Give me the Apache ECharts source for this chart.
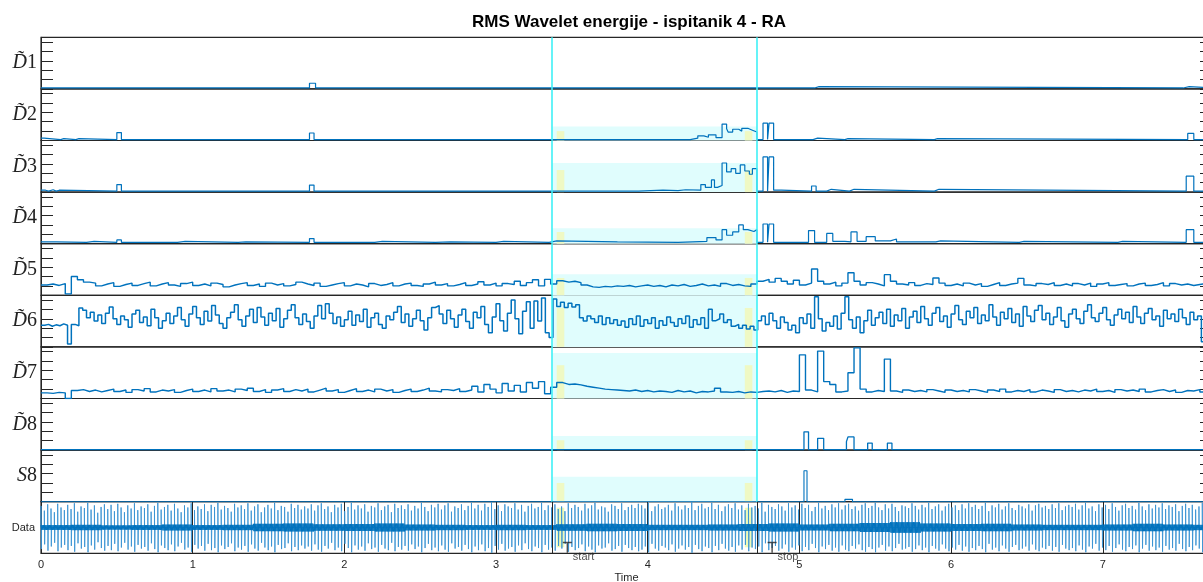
<!DOCTYPE html>
<html><head><meta charset="utf-8">
<script src="https://cdn.jsdelivr.net/npm/echarts@6/dist/echarts.min.js"></script>
<style>html,body{margin:0;padding:0;background:#fff}#c{width:1203px;height:582px}</style>
</head><body><div id="c"></div>
<script>
const titleText = 'RMS Wavelet energije - ispitanik 4 - RA';
const xMax = 7.72;
const evtStart = 3.37, evtStop = 4.72;
const yellowBands = [[3.40,3.45],[4.64,4.69]];
const markerX = [3.47, 4.82];
const markerNames = ['start','stop'];
const panelSym = ['D\u0303','D\u0303','D\u0303','D\u0303','D\u0303','D\u0303','D\u0303','D\u0303','S'];
const panelNum = ['1','2','3','4','5','6','7','8','8'];
const shadeTop  = [0, 0.30, 0.62, 0.33, 0.45, 1.10, 0.97, 0.30, 0.53];
const yellowTop = [0, 0.20, 0.47, 0.25, 0.37, 0.83, 0.71, 0.21, 0.40];

// sparse step series [time, value]
const d1 = [[0,0.02],[1.77,0.12],[1.81,0.02],[5.10,0.05],[5.13,0.02],[7.53,0.05],[7.57,0.02],[7.72,0.02]];
const d2 = [[0,0.05],[0.02,0.02],[0.13,0.04],[0.15,0.02],[0.23,0.04],[0.25,0.02],[0.50,0.17],[0.53,0.02],
 [1.77,0.16],[1.80,0.02],[4.28,0.05],[4.33,0.10],[4.37,0.07],[4.40,0.12],[4.45,0.06],[4.49,0.35],[4.52,0.25],
 [4.53,0.18],[4.56,0.24],[4.60,0.20],[4.62,0.26],[4.66,0.22],[4.69,0.18],[4.72,0.02],[4.76,0.37],[4.79,0.02],
 [4.80,0.37],[4.83,0.02],[5.09,0.05],[5.12,0.02],[5.30,0.04],[5.32,0.02],[5.89,0.04],[5.91,0.02],[7.56,0.15],[7.60,0.02],[7.72,0.02]];
const d3 = [[0,0.04],[0.03,0.02],[0.05,0.05],[0.08,0.02],[0.10,0.04],[0.12,0.02],[0.50,0.16],[0.53,0.02],
 [1.77,0.15],[1.80,0.02],[3.94,0.04],[4.10,0.03],[4.20,0.05],[4.25,0.04],[4.35,0.16],[4.38,0.10],[4.42,0.26],
 [4.44,0.10],[4.46,0.14],[4.49,0.62],[4.52,0.43],[4.55,0.50],[4.58,0.40],[4.61,0.58],[4.64,0.45],[4.67,0.38],
 [4.69,0.50],[4.72,0.02],[4.76,0.75],[4.79,0.02],[4.80,0.75],[4.83,0.04],[4.88,0.02],[5.08,0.13],[5.11,0.02],
 [5.18,0.06],[5.21,0.02],[5.33,0.06],[5.36,0.02],[5.89,0.06],[5.92,0.02],[7.55,0.34],[7.60,0.02],[7.72,0.02]];
const d4 = [[0,0.04],[0.10,0.03],[0.30,0.05],[0.35,0.03],[0.50,0.08],[0.53,0.03],[0.90,0.05],[0.95,0.03],
 [1.30,0.04],[1.35,0.03],[1.77,0.11],[1.80,0.03],[2.20,0.05],[2.25,0.03],[2.60,0.04],[2.70,0.03],[3.00,0.05],
 [3.05,0.03],[3.35,0.06],[3.40,0.04],[3.80,0.03],[4.20,0.05],[4.39,0.13],[4.45,0.08],[4.49,0.30],[4.52,0.18],
 [4.56,0.25],[4.60,0.40],[4.63,0.30],[4.66,0.26],[4.70,0.30],[4.72,0.03],[4.76,0.42],[4.79,0.03],[4.80,0.42],
 [4.83,0.03],[5.06,0.28],[5.10,0.03],[5.18,0.22],[5.22,0.05],[5.30,0.04],[5.34,0.25],[5.38,0.05],[5.44,0.15],
 [5.50,0.06],[5.60,0.10],[5.64,0.04],[5.90,0.06],[5.93,0.03],[6.45,0.05],[6.48,0.03],[7.10,0.05],[7.13,0.03],
 [7.55,0.30],[7.60,0.03],[7.72,0.03]];
const d8 = [[0,0.01],[5.03,0.39],[5.06,0.01],[5.12,0.25],[5.16,0.01],[5.31,0.18],[5.32,0.28],[5.36,0.01],[5.45,0.15],[5.48,0.01],[5.58,0.15],[5.61,0.01],[7.72,0.01]];
const s8 = [[0,0],[5.03,0.66],[5.05,0],[5.12,0.04],[5.13,0],[5.30,0.05],[5.35,0],[5.45,0.03],[5.46,0],[7.72,0]];

// dense series, sampled every d57Dx (D5, D7) / d6Dx (D6)
const d57Dx = 0.04;
const d5 = [
0.22,0.24,0.21,0.25,0.03,0.40,0.33,0.28,0.26,0.20,
0.24,0.27,0.19,0.23,0.26,0.21,0.25,0.28,0.20,0.24,
0.27,0.22,0.19,0.25,0.28,0.21,0.24,0.20,0.26,0.23,
0.18,0.22,0.25,0.27,0.21,0.24,0.19,0.26,0.22,0.25,
0.20,0.23,0.28,0.24,0.21,0.26,0.19,0.22,0.25,0.27,
0.20,0.24,0.22,0.18,0.25,0.21,0.23,0.27,0.20,0.24,
0.26,0.21,0.19,0.24,0.28,0.22,0.25,0.20,0.23,0.27,
0.21,0.24,0.29,0.22,0.26,0.20,0.25,0.23,0.30,0.21,
0.27,0.33,0.20,0.34,0.24,0.31,0.28,0.30,0.27,0.22,
0.18,0.17,0.19,0.18,0.20,0.19,0.21,0.18,0.20,0.22,
0.19,0.21,0.18,0.22,0.20,0.23,0.19,0.21,0.24,0.20,
0.22,0.19,0.25,0.21,0.23,0.20,0.19,0.24,0.30,0.34,
0.28,0.36,0.30,0.24,0.32,0.22,0.26,0.56,0.30,0.24,
0.28,0.20,0.26,0.48,0.30,0.22,0.27,0.24,0.20,0.44,
0.30,0.24,0.22,0.27,0.21,0.25,0.23,0.37,0.26,0.21,
0.24,0.20,0.26,0.22,0.25,0.19,0.23,0.27,0.21,0.24,
0.26,0.36,0.22,0.20,0.25,0.23,0.27,0.21,0.24,0.20,
0.25,0.22,0.26,0.19,0.24,0.27,0.21,0.23,0.25,0.20,
0.24,0.26,0.21,0.23,0.27,0.20,0.25,0.22,0.24,0.21,
0.23,0.25,0.19,0.15];
const d7 = [
0.12,0.11,0.13,0.12,0.00,0.17,0.19,0.15,0.18,0.14,
0.17,0.20,0.15,0.18,0.13,0.19,0.16,0.21,0.14,0.18,
0.16,0.19,0.13,0.17,0.20,0.15,0.18,0.14,0.21,0.16,
0.18,0.14,0.20,0.17,0.22,0.15,0.19,0.13,0.18,0.21,
0.15,0.19,0.16,0.20,0.14,0.18,0.22,0.16,0.19,0.13,
0.17,0.21,0.15,0.18,0.14,0.20,0.16,0.19,0.13,0.17,
0.20,0.15,0.18,0.22,0.16,0.14,0.19,0.17,0.21,0.15,
0.18,0.26,0.14,0.30,0.20,0.12,0.32,0.16,0.28,0.14,
0.34,0.22,0.36,0.10,0.24,0.34,0.30,0.31,0.29,0.26,
0.24,0.22,0.20,0.19,0.18,0.17,0.16,0.18,0.15,0.17,
0.14,0.16,0.15,0.13,0.17,0.14,0.16,0.12,0.15,0.14,
0.16,0.22,0.14,0.13,0.15,0.12,0.14,0.13,0.15,0.16,
0.14,0.17,0.13,0.16,0.15,0.93,0.18,0.14,1.01,0.36,
0.30,0.14,0.16,0.55,1.08,0.20,0.14,0.17,0.15,0.84,
0.16,0.13,0.18,0.15,0.17,0.14,0.19,0.16,0.13,0.18,
0.15,0.17,0.14,0.19,0.16,0.13,0.18,0.15,0.20,0.14,
0.17,0.15,0.19,0.14,0.18,0.16,0.13,0.19,0.15,0.17,
0.14,0.18,0.16,0.20,0.15,0.17,0.13,0.19,0.16,0.18,
0.15,0.20,0.14,0.17,0.19,0.15,0.18,0.13,0.17,0.16,
0.19,0.14,0.17,0.08];
const d6Dx = 0.025;
const d6 = [
0.46,0.48,0.44,0.47,0.45,0.49,0.46,0.06,0.48,0.45,
0.83,0.78,0.62,0.74,0.55,0.68,0.50,0.72,0.85,0.60,
0.48,0.66,0.58,0.42,0.70,0.78,0.52,0.64,0.45,0.80,
0.62,0.40,0.56,0.72,0.50,0.66,0.84,0.58,0.44,0.70,
0.86,0.62,0.48,0.76,0.55,0.88,0.68,0.50,0.40,0.62,
0.74,0.90,0.58,0.44,0.66,0.80,0.52,0.84,0.64,0.46,
0.72,0.56,0.82,0.42,0.60,0.78,0.90,0.62,0.48,0.70,
0.54,0.40,0.66,0.88,0.60,0.92,0.72,0.50,0.64,0.44,
0.58,0.76,0.46,0.68,0.54,0.80,0.42,0.62,0.72,0.48,
0.40,0.66,0.58,0.74,0.86,0.52,0.70,0.44,0.60,0.78,
0.56,0.36,0.62,0.84,0.88,0.70,0.50,0.78,0.60,0.42,
0.68,0.80,0.54,0.40,0.74,0.62,0.86,0.48,0.30,0.64,
0.92,0.56,0.34,0.72,1.00,0.60,0.28,0.76,0.96,0.40,
0.98,0.55,1.04,0.30,0.20,1.02,0.86,0.95,0.84,0.93,
0.85,0.90,0.62,0.55,0.66,0.60,0.52,0.66,0.48,0.62,
0.50,0.58,0.46,0.55,0.42,0.60,0.48,0.66,0.44,0.58,
0.50,0.62,0.40,0.56,0.46,0.64,0.52,0.44,0.60,0.50,
0.66,0.42,0.58,0.48,0.62,0.40,0.80,0.56,0.60,0.70,
0.52,0.58,0.44,0.48,0.40,0.46,0.38,0.44,0.36,0.56,
0.66,0.48,0.72,0.56,0.40,0.64,0.52,0.36,0.46,0.30,
0.62,0.50,0.70,0.40,1.07,0.60,0.34,0.52,0.44,0.66,
0.38,0.72,1.07,0.58,0.40,0.64,0.30,0.56,0.78,0.46,
0.62,0.74,0.50,0.80,0.44,0.68,0.56,0.82,0.40,0.64,
0.76,0.52,0.86,0.60,0.46,0.72,0.84,0.54,0.66,0.42,
0.70,0.88,0.58,0.48,0.76,0.62,0.84,0.50,0.68,0.56,
0.90,0.64,0.46,0.74,0.60,0.82,0.52,0.70,0.44,0.86,
0.66,0.54,0.78,0.88,0.58,0.72,0.48,0.64,0.84,0.56,
0.42,0.70,0.80,0.60,0.50,0.76,0.90,0.62,0.54,0.72,
0.84,0.58,0.46,0.68,0.80,0.60,0.74,0.52,0.86,0.64,
0.50,0.72,0.82,0.58,0.66,0.44,0.78,0.60,0.70,0.54,
0.80,0.62,0.48,0.74,0.58,0.66,0.11,0.45,0.50];

// raw data: one spike every spikeDx (amplitude both ways), baseline band half-width every bandDx
const spikeDx = 0.022;
const spikeAmp = [
0.82,0.64,0.88,0.72,0.58,0.90,0.76,0.66,0.86,0.70,
0.92,0.60,0.80,0.74,0.94,0.68,0.84,0.56,0.78,0.88,
0.70,0.86,0.62,0.90,0.76,0.58,0.84,0.72,0.92,0.66,
0.80,0.74,0.88,0.60,0.82,0.94,0.68,0.78,0.86,0.64,
0.90,0.72,0.58,0.84,0.76,0.92,0.66,0.80,0.70,0.88,
0.62,0.86,0.78,0.94,0.68,0.82,0.74,0.60,0.90,0.76,
0.84,0.70,0.92,0.64,0.80,0.88,0.58,0.76,0.86,0.72,
0.94,0.66,0.82,0.78,0.60,0.90,0.74,0.86,0.68,0.80,
0.72,0.88,0.64,0.84,0.92,0.70,0.80,0.58,0.86,0.76,
0.90,0.62,0.78,0.94,0.68,0.84,0.72,0.88,0.60,0.82,
0.76,0.92,0.66,0.80,0.86,0.58,0.90,0.74,0.84,0.70,
0.88,0.64,0.82,0.72,0.94,0.78,0.62,0.86,0.76,0.90,
0.68,0.84,0.92,0.60,0.80,0.74,0.88,0.66,0.82,0.94,
0.72,0.86,0.64,0.90,0.78,0.96,0.70,0.84,0.62,0.88,
0.80,0.74,0.92,0.68,0.86,0.60,0.82,0.90,0.72,0.78,
0.94,0.66,0.84,0.76,0.88,0.70,0.80,0.62,0.92,0.74,
0.86,0.78,0.64,0.90,0.72,0.84,0.94,0.68,0.80,0.76,
0.60,0.88,0.82,0.70,0.92,0.66,0.78,0.86,0.74,0.90,
0.84,0.72,0.94,0.62,0.80,0.88,0.70,0.76,0.86,0.64,
0.92,0.80,0.68,0.84,0.74,0.96,0.66,0.82,0.90,0.72,
0.78,0.94,0.70,0.86,0.62,0.80,0.88,0.74,0.92,0.68,
0.84,0.66,0.90,0.76,0.82,0.72,0.94,0.60,0.86,0.78,
0.70,0.88,0.80,0.64,0.92,0.76,0.84,0.68,0.90,0.74,
0.86,0.62,0.78,0.94,0.72,0.82,0.66,0.88,0.76,0.92,
0.68,0.84,0.90,0.70,0.80,0.64,0.86,0.92,0.74,0.82,
0.94,0.76,0.66,0.88,0.72,0.90,0.78,0.62,0.84,0.80,
0.74,0.92,0.82,0.68,0.86,0.76,0.94,0.70,0.80,0.88,
0.64,0.80,0.90,0.76,0.84,0.66,0.88,0.72,0.92,0.78,
0.86,0.70,0.82,0.94,0.62,0.84,0.76,0.90,0.68,0.80,
0.92,0.74,0.66,0.86,0.80,0.72,0.88,0.64,0.84,0.90,
0.76,0.82,0.70,0.88,0.74,0.92,0.66,0.80,0.86,0.78,
0.90,0.68,0.84,0.94,0.72,0.80,0.62,0.88,0.76,0.86,
0.70,0.92,0.78,0.64,0.84,0.90,0.74,0.82,0.68,0.94,
0.80,0.66,0.88,0.72,0.86,0.76,0.92,0.70,0.84,0.78,
0.88,0.62,0.82,0.90,0.74,0.86,0.68,0.80,0.94];
const bandDx = 0.2;
const bandAmp = [0.09,0.10,0.08,0.09,0.11,0.09,0.10,0.14,0.15,0.12,0.13,0.15,0.11,0.10,0.09,0.10,0.09,0.12,0.14,0.13,
0.10,0.10,0.11,0.13,0.15,0.11,0.14,0.17,0.20,0.15,0.13,0.14,0.11,0.10,0.10,0.11,0.14,0.11,0.10];

function sampled(vals, dx){ return vals.map((v,i)=>[Math.round(i*dx*1000)/1000, v]); }
const panelData = [d1,d2,d3,d4,sampled(d5,d57Dx),sampled(d6,d6Dx),sampled(d7,d57Dx),d8,s8];
const panelWidth = [1.2,1.2,1.2,1.2,1.4,1.5,1.4,1.3,1.1];

const spikeLine = [], bandLine = [];
spikeAmp.forEach((a,i)=>{
  const t = i*spikeDx;
  spikeLine.push([t,0],[t,a],[t+0.002,-a],[t+0.004,0]);
});
bandAmp.forEach((b,k)=>{
  for (let j=0;j<50;j++){ const t = k*bandDx + j*0.004; bandLine.push([t, (j%2? -b : b)]); }
});

const AX = '#262626', BLUE = '#0072BD';
const top0 = 37.3, H = 51.6, N = 10, plotLeft = 41, plotWidth = 1171;
const grids = [], xAxes = [], yAxes = [], series = [];
for (let i=0;i<N;i++){
  const last = i===N-1;
  grids.push({left:plotLeft, width:plotWidth, top: top0+i*H, height:H, show:true, outerBoundsMode:'none', containLabel:false,
    borderColor:AX, borderWidth:1.2, backgroundColor:'rgba(0,0,0,0)'});
  xAxes.push({type:'value', gridIndex:i, min:0, max:xMax, interval:1,
    axisLine:{show:false}, axisTick:{show:false},
    axisLabel:{show:last, color:AX, fontSize:11, margin:6, fontFamily:'Liberation Sans', showMaxLabel:false},
    splitLine:{show:last, lineStyle:{color:AX, width:1}},
    name: last?'Time':'', nameLocation:'middle', nameGap:19,
    nameTextStyle:{color:AX, fontSize:11, fontFamily:'Liberation Sans'}});
  const yBase = last ? {min:-0.98, max:0.98} : {min:0, max:1.1, interval:0.2};
  const nm = last ? 'Data' : '{i|'+panelSym[i]+'}{n|'+panelNum[i]+'}';
  yAxes.push(Object.assign({type:'value', gridIndex:i, position:'left',
    axisLine:{show:true, lineStyle:{color:AX, width:1}},
    axisTick:{show:!last, inside:true, length:12, lineStyle:{color:AX}},
    axisLabel:{show:false}, splitLine:{show:false},
    name:nm, nameLocation:'middle', nameRotate:0, nameGap: last?6:4,
    nameTextStyle: last ? {color:AX, fontSize:11, fontFamily:'Liberation Sans', align:'right'} :
      {align:'right', rich:{i:{fontFamily:'Liberation Serif', fontStyle:'italic', fontSize:20, color:'#222'},
                             n:{fontFamily:'Liberation Serif', fontSize:20, color:'#222'}}}
  }, yBase));
  yAxes.push(Object.assign({type:'value', gridIndex:i, position:'right',
    axisLine:{show:false}, axisTick:{show:!last, inside:true, length:12, lineStyle:{color:AX}},
    axisLabel:{show:false}, splitLine:{show:false}}, yBase));
}
for (let i=0;i<9;i++){
  const areas = [];
  if (shadeTop[i]>0){
    areas.push([{xAxis:evtStart, yAxis:0, itemStyle:{color:'#e0fdfd'}},{xAxis:evtStop, yAxis:shadeTop[i]}]);
    yellowBands.forEach(b=>areas.push([{xAxis:b[0], yAxis:0, itemStyle:{color:'#eff9c4'}},{xAxis:b[1], yAxis:yellowTop[i]}]));
  }
  series.push({type:'line', xAxisIndex:i, yAxisIndex:2*i, data:panelData[i], step:'end', showSymbol:false,
    symbol:'none', lineStyle:{color:BLUE, width: panelWidth[i]}, silent:true, animation:false,
    markArea:{silent:true, data:areas, animation:false},
    markLine:{silent:true, symbol:['none','none'], label:{show:false}, animation:false,
      lineStyle:{color:'#3ff0f6', width:1.6, type:'solid'}, data:[{xAxis:evtStart},{xAxis:evtStop}]}});
}
series.push({type:'line', xAxisIndex:9, yAxisIndex:18, data:spikeLine, showSymbol:false, symbol:'none',
  sampling:null, lineStyle:{color:'#3a93d3', width:0.9}, silent:true, animation:false,
  markLine:{silent:true, symbol:['none','none'], label:{show:false}, animation:false,
    lineStyle:{color:AX, width:1, type:'solid'}, data:[{xAxis:evtStart},{xAxis:evtStop}]}});
series.push({type:'line', xAxisIndex:9, yAxisIndex:18, data:bandLine, showSymbol:false, symbol:'none',
  sampling:null, lineStyle:{color:BLUE, width:1}, silent:true, animation:false, z:3,
  markArea:{silent:true, animation:false, data: yellowBands.map(b=>[{xAxis:b[0], yAxis:-0.75, itemStyle:{color:'rgba(232,248,160,0.75)'}},{xAxis:b[1], yAxis:0.75}])}});
series.push({type:'scatter', xAxisIndex:9, yAxisIndex:18, silent:true, animation:false, z:5,
  data: markerX.map((x,k)=>({value:[x,-0.75], name:markerNames[k]})),
  symbol:'path://M0,0H10V1.6H5.8V12H4.2V1.6H0Z', symbolSize:[9,11],
  itemStyle:{color:AX},
  label:{show:true, position:'right', distance:1, offset:[0,10], formatter:'{b}', color:AX, fontSize:11, fontFamily:'Liberation Sans'}});

const chart = echarts.init(document.getElementById('c'), null, {renderer:'canvas'});
chart.setOption({
  animation:false, backgroundColor:'#fff',
  title:{text:titleText, left:624, top:9, textAlign:'center',
    textStyle:{fontSize:17, fontWeight:'bold', color:'#000', fontFamily:'Liberation Sans'}},
  grid:grids, xAxis:xAxes, yAxis:yAxes, series:series
});
</script></body></html>
